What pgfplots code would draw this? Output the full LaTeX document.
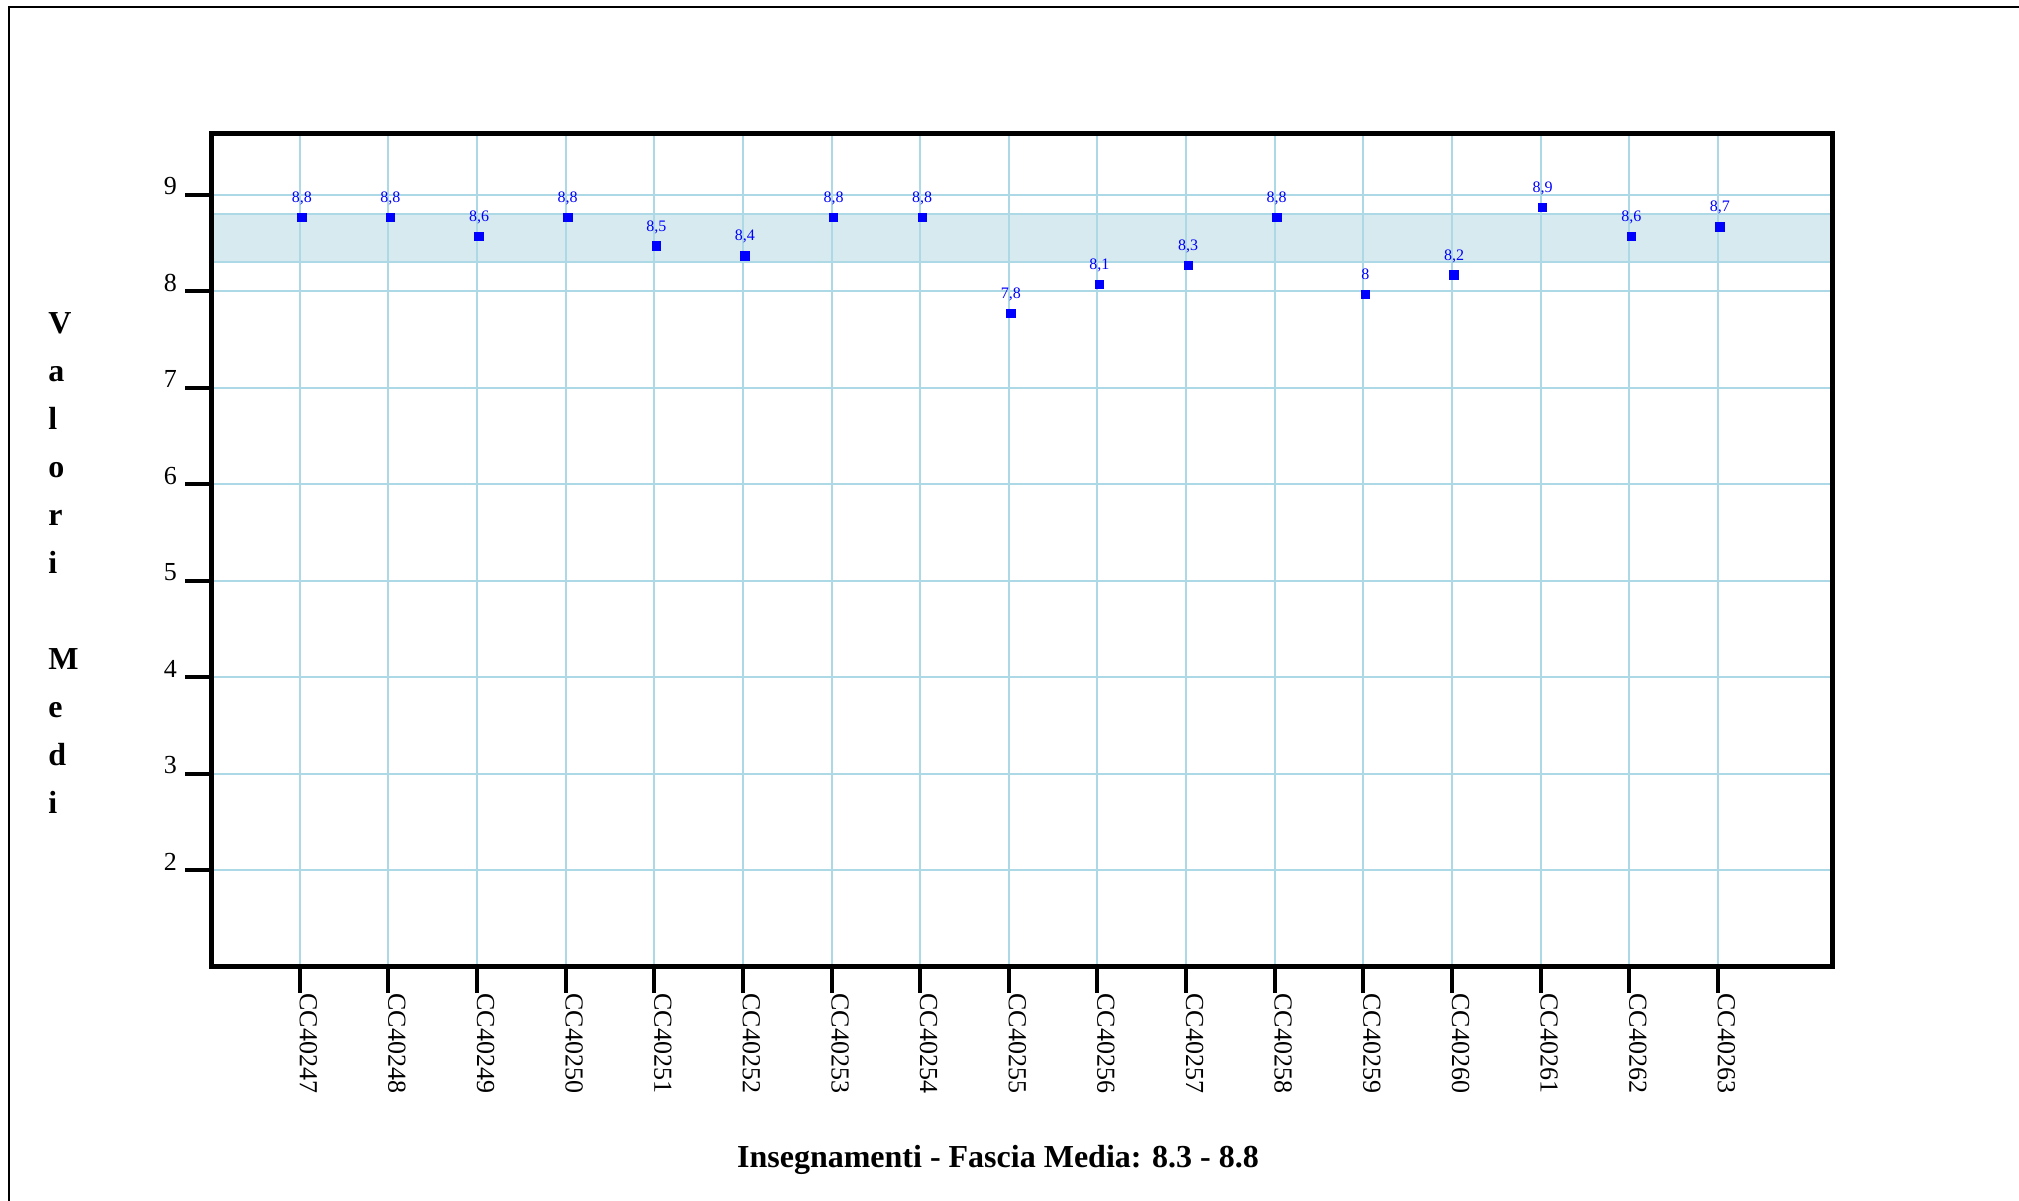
\documentclass[border=0pt]{standalone}
\usepackage{fontspec}
\setmainfont{Liberation Serif}
\usepackage{pgfplots}
\pgfplotsset{compat=1.18}

\definecolor{gridblue}{RGB}{173,216,230}
\definecolor{bandfill}{RGB}{214,234,240}

\begin{document}
\begin{tikzpicture}
% outer frame (left and top only visible)
\draw[line width=1pt] (4.5pt,-2pt) -- (4.5pt,596.5pt) -- (1012pt,596.5pt);

\begin{axis}[
    at={(105.6pt,116.5pt)}, anchor=south west,
    scale only axis,
    width=810.5pt, height=416.5pt,
    xmin=0, xmax=18.29,
    ymin=1, ymax=9.63,
    set layers,
    /pgf/number format/assume math mode=true,
    xtick={1,...,17},
    xticklabels={CC40247,CC40248,CC40249,CC40250,CC40251,CC40252,CC40253,CC40254,CC40255,CC40256,CC40257,CC40258,CC40259,CC40260,CC40261,CC40262,CC40263},
    ytick={2,...,9},
    xtick pos=bottom, ytick pos=left,
    tick align=outside,
    major tick length=13pt,
    major tick style={line width=2pt, black},
    axis line style={line width=2.5pt},
    grid=major,
    major grid style={gridblue, line width=1pt},
    tick label style={font=\fontsize{13}{13}\selectfont},
    xticklabel style={rotate=-90, anchor=base west, inner sep=0pt},
    yticklabel style={anchor=base east, inner sep=4pt},
]
\addplot[fill=bandfill, draw=gridblue, line width=1pt, on layer=axis background]
    coordinates {(0,8.3) (18.29,8.3) (18.29,8.8) (0,8.8) (0,8.3)};

\addplot[only marks, mark=square*, mark size=2.1pt, blue,
    mark options={xshift=1pt, yshift=-1.5pt},
    nodes near coords,
    every node near coord/.append style={font=\fontsize{8}{8}\selectfont, text=blue, anchor=base, yshift=7.5pt,
        /pgf/number format/.cd, fixed, precision=1, use comma}]
    coordinates {
    (1,8.8) (2,8.8) (3,8.6) (4,8.8) (5,8.5) (6,8.4) (7,8.8) (8,8.8) (9,7.8)
    (10,8.1) (11,8.3) (12,8.8) (13,8) (14,8.2) (15,8.9) (16,8.6) (17,8.7)
    };
\end{axis}

% vertical y label (anchored on the baseline of its last line)
\node[anchor=base west, align=left, inner sep=0pt, font=\fontsize{16}{24}\selectfont\bfseries]
    at (24pt,193pt) {V\\a\\l\\o\\r\\i\\\mbox{}\\M\\e\\d\\i};

% x label
\node[anchor=base, inner sep=0pt, font=\fontsize{16}{16}\selectfont\bfseries]
    at (499pt,16.5pt) {Insegnamenti - Fascia Media: 8.3 - 8.8};

\pgfresetboundingbox
\useasboundingbox (0,0) rectangle (1009.5pt,600pt);
\end{tikzpicture}
\end{document}
